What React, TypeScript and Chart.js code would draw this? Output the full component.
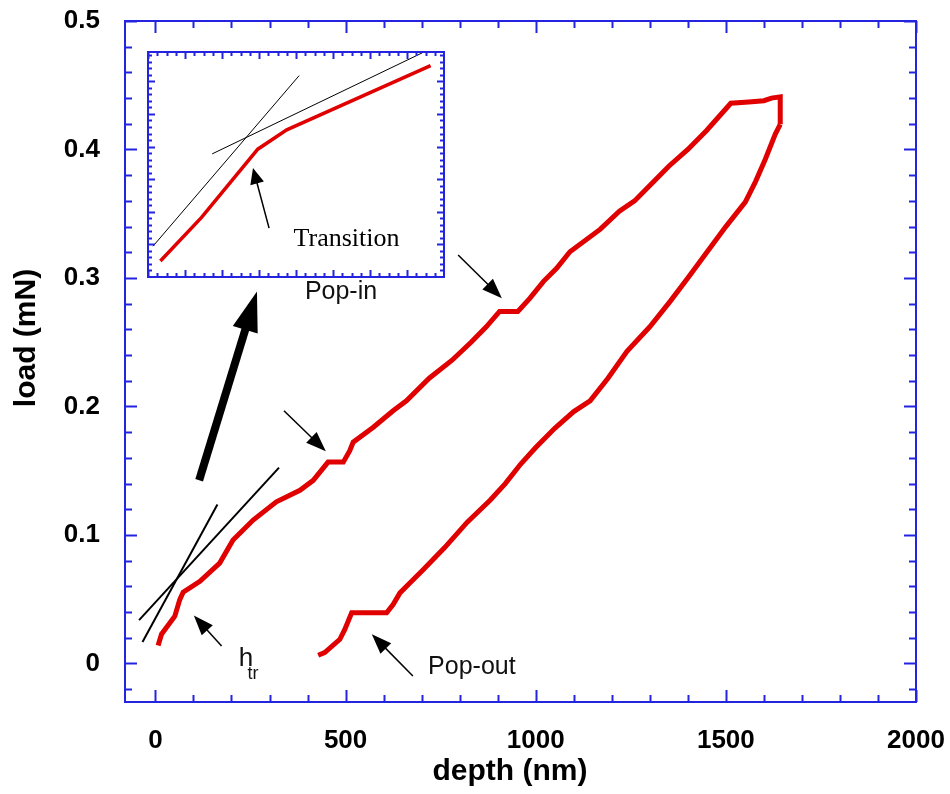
import { useEffect, useRef } from "react";
import { Chart, registerables } from "chart.js";

Chart.register(...registerables);

const FRAME_BLUE = "#2424e0";
const CURVE_RED = "#e00000";
const SANS = "'Liberation Sans', Arial, Helvetica, sans-serif";
const SERIF = "'Liberation Serif', 'Times New Roman', serif";

// Axis ranges and labelled ticks
const X_RANGE = [-80, 2000];
const Y_RANGE = [-0.03, 0.5];
const X_TICKS = [0, 500, 1000, 1500, 2000];
const Y_TICKS = [0, 0.1, 0.2, 0.3, 0.4, 0.5];
const X_TITLE = "depth (nm)";
const Y_TITLE = "load (mN)";

// Loading branch (depth in nm, load in mN)
const loadingDepth = [7, 16, 51, 64, 73, 117, 169, 204, 257, 318, 380, 415, 454, 494, 511, 520, 573, 625, 660, 720, 780, 830, 870, 905, 953, 985, 1020, 1055, 1090, 1170, 1220, 1260, 1300, 1350, 1400, 1450, 1513, 1560, 1600, 1620, 1643, 1643];
const loadingLoad = [0.014, 0.0228, 0.0368, 0.0497, 0.0554, 0.0639, 0.0781, 0.0961, 0.1116, 0.1258, 0.1348, 0.1425, 0.1567, 0.1567, 0.1656, 0.1722, 0.1838, 0.1967, 0.2044, 0.222, 0.236, 0.25, 0.262, 0.274, 0.274, 0.2843, 0.2972, 0.3075, 0.3204, 0.338, 0.352, 0.36, 0.372, 0.387, 0.4, 0.415, 0.436, 0.437, 0.438, 0.44, 0.441, 0.4196];

// Unloading branch
const unloadingDepth = [1643, 1630, 1604, 1578, 1551, 1500, 1450, 1400, 1354, 1300, 1240, 1190, 1143, 1100, 1050, 1000, 960, 920, 880, 820, 760, 704, 669, 643, 625, 608, 516, 498, 485, 445, 428];
const unloadingLoad = [0.4196, 0.412, 0.3926, 0.375, 0.359, 0.34, 0.32, 0.3, 0.282, 0.262, 0.243, 0.222, 0.2044, 0.196, 0.183, 0.168, 0.155, 0.14, 0.127, 0.11, 0.09, 0.073, 0.0626, 0.0549, 0.0459, 0.0394, 0.0394, 0.0265, 0.0188, 0.0085, 0.0064];

// Tangent fits around the elastic-plastic transition
const fitSteepDepth = [-34, 163];
const fitSteepLoad = [0.0167, 0.1237];
const fitShallowDepth = [-43, 325];
const fitShallowLoad = [0.0337, 0.1524];

// Close-up of the transition (inset, arbitrary units)
const INSET_X_RANGE = [0, 32];
const INSET_Y_RANGE = [0, 34.5];
const insetCurveX = [1.34, 5.79, 11.87, 15.0, 30.55];
const insetCurveY = [2.46, 9.14, 19.6, 22.57, 32.4];
const insetFitSteepX = [0.54, 16.34];
const insetFitSteepY = [4.72, 30.88];
const insetFitShallowX = [6.94, 29.65];
const insetFitShallowY = [18.88, 34.37];

// Callouts on the main plot, in data units
const mainArrows = [
  { from: [115, 0.1426], to: [267, 0.2895], line: 8, head: 40, width: 26 },
  { from: [338, 0.1967], to: [448, 0.1652], line: 1.5, head: 20, width: 15 },
  { from: [796, 0.3179], to: [911, 0.2843], line: 1.5, head: 20, width: 15 },
  { from: [174, 0.0136], to: [101, 0.0374], line: 1.5, head: 20, width: 15 },
  { from: [677, -0.0098], to: [569, 0.0227], line: 1.5, head: 20, width: 15 },
];
const mainLabels = [
  { text: "Pop-in", at: [393, 0.2835], size: 25 },
  { text: "Pop-out", at: [717, -0.0083], size: 25 },
  { text: "h", at: [219, -0.0021], size: 26 },
  { text: "tr", at: [242, -0.0122], size: 18 },
];
const insetArrow = { from: [13.09, 7.49], to: [11.35, 16.72], line: 1.5, head: 16, width: 14 };
const insetLabel = { text: "Transition", at: [15.73, 4.77], size: 26 };

const pairs = (xs: number[], ys: number[]) => xs.map((x, i) => ({ x, y: ys[i] }));

function drawArrow(ctx: CanvasRenderingContext2D, x0: number, y0: number, x1: number, y1: number, lineW: number, headLen: number, headW: number) {
  const ang = Math.atan2(y1 - y0, x1 - x0);
  const bx = x1 - headLen * Math.cos(ang);
  const by = y1 - headLen * Math.sin(ang);
  ctx.save();
  ctx.strokeStyle = "#000";
  ctx.fillStyle = "#000";
  ctx.lineWidth = lineW;
  ctx.beginPath();
  ctx.moveTo(x0, y0);
  ctx.lineTo(bx + 2 * Math.cos(ang), by + 2 * Math.sin(ang));
  ctx.stroke();
  ctx.beginPath();
  ctx.moveTo(x1, y1);
  ctx.lineTo(bx + (headW / 2) * Math.sin(ang), by - (headW / 2) * Math.cos(ang));
  ctx.lineTo(bx - (headW / 2) * Math.sin(ang), by + (headW / 2) * Math.cos(ang));
  ctx.closePath();
  ctx.fill();
  ctx.restore();
}

type TickSpec = { v: number; major: boolean };

// Box frame with inward ticks on all four sides
function drawFrame(chart: any, xt: TickSpec[], yt: TickSpec[], majorLen: number, minorLen: number, lw: number) {
  const { ctx, chartArea: a, scales } = chart;
  ctx.save();
  ctx.strokeStyle = FRAME_BLUE;
  ctx.lineWidth = lw;
  ctx.strokeRect(a.left, a.top, a.right - a.left, a.bottom - a.top);
  ctx.beginPath();
  for (const t of xt) {
    const px = Math.round(scales.x.getPixelForValue(t.v)) + 0.5;
    const len = t.major ? majorLen : minorLen;
    ctx.moveTo(px, a.bottom);
    ctx.lineTo(px, a.bottom - len);
    ctx.moveTo(px, a.top);
    ctx.lineTo(px, a.top + len);
  }
  for (const t of yt) {
    const py = Math.round(scales.y.getPixelForValue(t.v)) + 0.5;
    const len = t.major ? majorLen : minorLen;
    ctx.moveTo(a.left, py);
    ctx.lineTo(a.left + len, py);
    ctx.moveTo(a.right, py);
    ctx.lineTo(a.right - len, py);
  }
  ctx.stroke();
  ctx.restore();
}

const mainXTicks: TickSpec[] = [];
for (let k = 0; k <= 20; k++) mainXTicks.push({ v: k * 100, major: k % 5 === 0 });
const mainYTicks: TickSpec[] = [];
for (let k = -1; k <= 25; k++) mainYTicks.push({ v: k * 0.02, major: k % 5 === 0 });
const insetXTicks: TickSpec[] = [];
for (let k = 0; k <= 32; k++) insetXTicks.push({ v: k, major: k % 4 === 0 });
const insetYTicks: TickSpec[] = [];
for (let k = 0; k <= 34; k++) insetYTicks.push({ v: k, major: k % 5 === 0 });

const mainDecor = {
  id: "mainDecor",
  afterDatasetsDraw(chart: any) {
    const { ctx, scales } = chart;
    drawFrame(chart, mainXTicks, mainYTicks, 12, 7, 2);
    for (const a of mainArrows) {
      drawArrow(
        ctx,
        scales.x.getPixelForValue(a.from[0]), scales.y.getPixelForValue(a.from[1]),
        scales.x.getPixelForValue(a.to[0]), scales.y.getPixelForValue(a.to[1]),
        a.line, a.head, a.width
      );
    }
    ctx.save();
    ctx.fillStyle = "#111";
    ctx.textAlign = "left";
    ctx.textBaseline = "alphabetic";
    for (const l of mainLabels) {
      ctx.font = `${l.size}px ${SANS}`;
      ctx.fillText(l.text, scales.x.getPixelForValue(l.at[0]), scales.y.getPixelForValue(l.at[1]));
    }
    ctx.restore();
  },
  afterDraw(chart: any) {
    // axis titles
    const { ctx } = chart;
    ctx.save();
    ctx.fillStyle = "#000";
    ctx.font = `bold 30px ${SANS}`;
    ctx.textAlign = "center";
    ctx.textBaseline = "middle";
    ctx.fillText(X_TITLE, 510, 772);
    ctx.translate(27, 338);
    ctx.rotate(-Math.PI / 2);
    ctx.fillText(Y_TITLE, 0, 0);
    ctx.restore();
  },
};

const insetDecor = {
  id: "insetDecor",
  beforeDraw(chart: any) {
    const { ctx, width, height } = chart;
    ctx.save();
    ctx.fillStyle = "#fff";
    ctx.fillRect(0, 0, width, height);
    ctx.restore();
  },
  afterDatasetsDraw(chart: any) {
    const { ctx, scales } = chart;
    drawFrame(chart, insetXTicks, insetYTicks, 7, 4, 2);
    drawArrow(
      ctx,
      scales.x.getPixelForValue(insetArrow.from[0]), scales.y.getPixelForValue(insetArrow.from[1]),
      scales.x.getPixelForValue(insetArrow.to[0]), scales.y.getPixelForValue(insetArrow.to[1]),
      insetArrow.line, insetArrow.head, insetArrow.width
    );
    ctx.save();
    ctx.fillStyle = "#000";
    ctx.font = `${insetLabel.size}px ${SERIF}`;
    ctx.textAlign = "left";
    ctx.textBaseline = "alphabetic";
    ctx.fillText(insetLabel.text, scales.x.getPixelForValue(insetLabel.at[0]), scales.y.getPixelForValue(insetLabel.at[1]));
    ctx.restore();
  },
};

const tickFont = { family: SANS, size: 26, weight: "bold" as const };

export default function App() {
  const mainRef = useRef<HTMLCanvasElement>(null);
  const insetRef = useRef<HTMLCanvasElement>(null);

  useEffect(() => {
    const main = new Chart(mainRef.current!, {
      type: "scatter",
      data: {
        datasets: [
          { data: pairs(fitSteepDepth, fitSteepLoad), showLine: true, borderColor: "#000", borderWidth: 2, pointRadius: 0 },
          { data: pairs(fitShallowDepth, fitShallowLoad), showLine: true, borderColor: "#000", borderWidth: 2, pointRadius: 0 },
          { data: pairs(loadingDepth, loadingLoad), showLine: true, borderColor: CURVE_RED, borderWidth: 5, pointRadius: 0 },
          { data: pairs(unloadingDepth, unloadingLoad), showLine: true, borderColor: CURVE_RED, borderWidth: 5, pointRadius: 0 },
        ],
      },
      options: {
        animation: false,
        responsive: false,
        devicePixelRatio: 1,
        layout: { padding: { top: 21, right: 34, left: 0, bottom: 0 } },
        plugins: { legend: { display: false }, tooltip: { enabled: false } },
        scales: {
          x: {
            type: "linear",
            min: X_RANGE[0],
            max: X_RANGE[1],
            grid: { display: false, drawTicks: false },
            border: { display: false },
            afterBuildTicks: (s: any) => { s.ticks = X_TICKS.map((v) => ({ value: v })); },
            afterFit: (s: any) => {
              s.height = 92;
              s.paddingLeft = 0;
              s.paddingRight = 0;
            },
            ticks: { font: tickFont, color: "#000", padding: 23, maxRotation: 0, callback: (v: any) => String(v) },
          },
          y: {
            type: "linear",
            min: Y_RANGE[0],
            max: Y_RANGE[1],
            grid: { display: false, drawTicks: false },
            border: { display: false },
            afterBuildTicks: (s: any) => { s.ticks = Y_TICKS.map((v) => ({ value: v })); },
            afterFit: (s: any) => {
              s.width = 125;
              s.paddingTop = 0;
              s.paddingBottom = 0;
            },
            ticks: { font: tickFont, color: "#000", padding: 25, callback: (v: any) => (v === 0 ? "0" : Number(v).toFixed(1)) },
          },
        },
      },
      plugins: [mainDecor],
    });

    const inset = new Chart(insetRef.current!, {
      type: "scatter",
      data: {
        datasets: [
          { data: pairs(insetFitSteepX, insetFitSteepY), showLine: true, borderColor: "#000", borderWidth: 1, pointRadius: 0 },
          { data: pairs(insetFitShallowX, insetFitShallowY), showLine: true, borderColor: "#000", borderWidth: 1, pointRadius: 0 },
          { data: pairs(insetCurveX, insetCurveY), showLine: true, borderColor: CURVE_RED, borderWidth: 3.5, pointRadius: 0 },
        ],
      },
      options: {
        animation: false,
        responsive: false,
        devicePixelRatio: 1,
        layout: { padding: 1 },
        plugins: { legend: { display: false }, tooltip: { enabled: false } },
        scales: {
          x: { type: "linear", min: INSET_X_RANGE[0], max: INSET_X_RANGE[1], display: false },
          y: { type: "linear", min: INSET_Y_RANGE[0], max: INSET_Y_RANGE[1], display: false },
        },
      },
      plugins: [insetDecor],
    });

    return () => {
      main.destroy();
      inset.destroy();
    };
  }, []);

  return (
    <div style={{ position: "fixed", left: 0, top: 0, width: 950, height: 794, background: "#fff" }}>
      <canvas ref={mainRef} width={950} height={794} style={{ position: "absolute", left: 0, top: 0 }} />
      <canvas ref={insetRef} width={298} height={227} style={{ position: "absolute", left: 147, top: 51 }} />
    </div>
  );
}
